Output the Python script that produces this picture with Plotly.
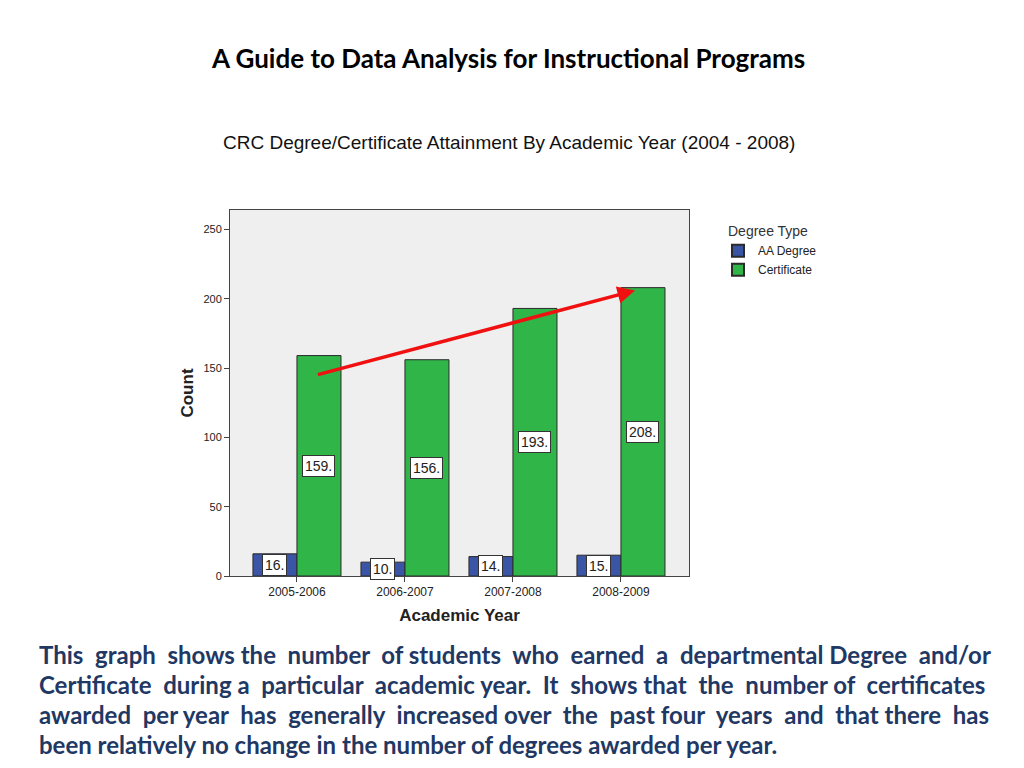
import plotly.graph_objects as go

years = ["2005-2006", "2006-2007", "2007-2008", "2008-2009"]
aa_degree = [16, 10, 14, 15]
certificate = [159, 156, 193, 208]
y_ticks = [0, 50, 100, 150, 200, 250]

# trend arrow endpoints (category position, value)
arrow_start = (0.18, 145)
arrow_end = (3.13, 206)

blue = "#3A54A6"
green = "#2FB548"
navy = "#1F3864"

OFF = 8  # browser body margin
W, H = 1024, 768
L, R, T, B = 230 - OFF, W - 689 + OFF, 210 - OFF, H - 576 + OFF
PW, PH = W - L - R, H - T - B


def px(xs):  # screen x -> paper x
    return (xs - OFF - L) / PW


def py(ys):  # screen y -> paper y
    return (H - B - (ys - OFF)) / PH


fig = go.Figure()
fig.add_trace(go.Bar(x=years, y=aa_degree, name="AA Degree",
                     marker=dict(color=blue, line=dict(color="#2b2b2b", width=1))))
fig.add_trace(go.Bar(x=years, y=certificate, name="Certificate",
                     marker=dict(color=green, line=dict(color="#2b2b2b", width=1))))

for i, yr in enumerate(years):
    for vals, shift in ((aa_degree, -22), (certificate, 22)):
        fig.add_annotation(x=yr, y=vals[i] / 2, xref="x", yref="y", text=f"{vals[i]}.",
                           showarrow=False, xshift=shift, xanchor="center", yanchor="middle",
                           font=dict(family="Liberation Sans, Arial", size=14, color="#222"),
                           bgcolor="white", bordercolor="#333", borderwidth=1, borderpad=2)

fig.add_annotation(x=arrow_end[0], y=arrow_end[1], ax=arrow_start[0], ay=arrow_start[1],
                   xref="x", yref="y", axref="x", ayref="y", showarrow=True,
                   arrowhead=2, arrowsize=1, arrowwidth=3.5, arrowcolor="#F01010", text="")

fig.update_layout(
    width=W, height=H,
    paper_bgcolor="white", plot_bgcolor="#EFEFEF",
    margin=dict(l=L, r=R, t=T, b=B),
    barmode="group", bargap=0.185, bargroupgap=0,
    showlegend=True,
    legend=dict(x=px(726), xanchor="left", y=py(218), yanchor="top",
                title=dict(text="Degree Type", font=dict(family="Liberation Sans, Arial", size=14, color="#333")),
                font=dict(family="Liberation Sans, Arial", size=12, color="#222"),
                itemsizing="constant", tracegroupgap=0, borderwidth=0,
                bgcolor="rgba(0,0,0,0)", indentation=-8),
    xaxis=dict(range=[-0.62, 3.63], showline=True, linecolor="#444", linewidth=1, mirror=True,
               ticks="outside", ticklen=5, tickcolor="#444",
               tickfont=dict(family="Liberation Sans, Arial", size=12, color="#222"),
               title=dict(text="<b>Academic Year</b>", standoff=10,
                          font=dict(family="Liberation Sans, Arial", size=17, color="#222"))),
    yaxis=dict(range=[0, 264], tickvals=y_ticks, showgrid=False, zeroline=False,
               showline=True, linecolor="#444", linewidth=1, mirror=True,
               ticks="outside", ticklen=5, tickcolor="#444",
               tickfont=dict(family="Liberation Sans, Arial", size=11, color="#222"),
               title=dict(text="<b>Count</b>", standoff=5,
                          font=dict(family="Liberation Sans, Arial", size=17, color="#222"))),
)

fig.add_annotation(x=px(508), y=py(58), xref="paper", yref="paper", showarrow=False,
                   xanchor="center", yanchor="middle",
                   text="<b>A Guide to Data Analysis for Instructional Programs</b>",
                   font=dict(family="Lato, Open Sans", size=26, color="black"))
fig.add_annotation(x=px(509), y=py(143), xref="paper", yref="paper", showarrow=False,
                   xanchor="center", yanchor="middle",
                   text="CRC Degree/Certificate Attainment By Academic Year (2004 - 2008)",
                   font=dict(family="Liberation Sans, Arial", size=19, color="#111"))

para = [
    "This graph shows the number of students who earned a departmental Degree and/or",
    "Certificate during a particular academic year.  It shows that the number of certificates",
    "awarded per year has generally increased over the past four years and that there has",
    "been relatively no change in the number of degrees awarded per year.",
]
# number of word gaps that get one extra space (approximate justification)
extra_gaps = [9, 8, 10, 0]


def justify(line, n_extra):
    words = [w for w in line.split(" ") if w]
    gaps = len(words) - 1
    out = words[0]
    given = 0
    for j, w in enumerate(words[1:], start=1):
        sep = "&nbsp;"
        want = round(j * n_extra / gaps) if gaps else 0
        if want > given:
            sep += "&nbsp;"
            given += 1
        out += sep + w
    return out


for k, line in enumerate(para):
    fig.add_annotation(x=px(37), y=py(654 + 30.3 * k), xref="paper", yref="paper",
                       xanchor="left", yanchor="middle", showarrow=False,
                       text="<b>" + justify(line, extra_gaps[k]) + "</b>",
                       font=dict(family="Lato, Open Sans", size=24, color=navy))

fig.write_html("out.html")
